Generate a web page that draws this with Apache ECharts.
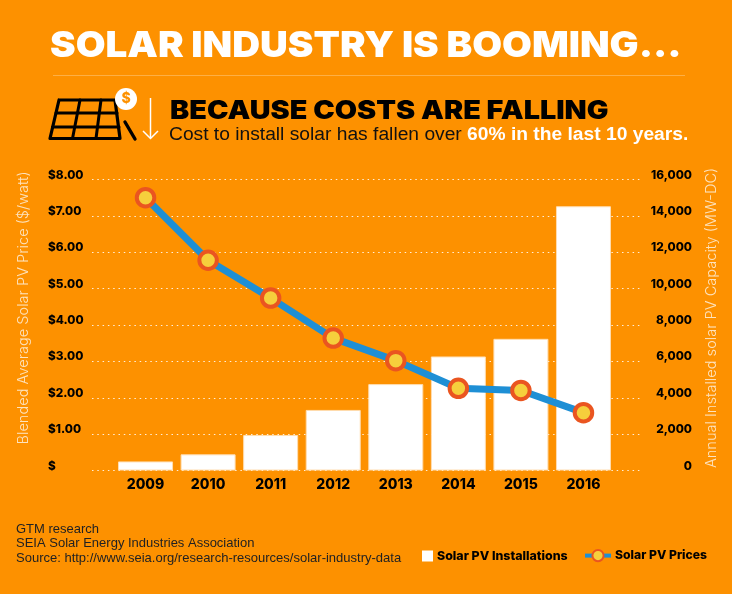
<!DOCTYPE html>
<html><head><meta charset="utf-8">
<style>html,body{margin:0;padding:0;background:#FD9100}#c{width:732px;height:594px}</style>
<script src="https://cdn.jsdelivr.net/npm/echarts@6/dist/echarts.min.js"></script>
</head><body><div id="c"></div>
<script>
const categories = ['2009','2010','2011','2012','2013','2014','2015','2016'];
const installations = [500,890,1950,3330,4750,6270,7240,14530];
const prices = [7.5,5.78,4.74,3.64,3.02,2.26,2.2,1.59];
const priceTicks = ['$','$1.00','$2.00','$3.00','$4.00','$5.00','$6.00','$7.00','$8.00'];
const capacityTicks = ['0','2,000','4,000','6,000','8,000','10,000','12,000','14,000','16,000'];
const footer = ['GTM research','SEIA Solar Energy Industries Association','Source: http://www.seia.org/research-resources/solar-industry-data'];

const BG='#FD9100', HEAVY='Inter, "Noto Sans", sans-serif', PLAIN='"Liberation Sans", Arial, sans-serif';
const gridTop=179.5, gridH=291;
const chart = echarts.init(document.getElementById('c'),null,{renderer:'canvas'});
const stroke=(pts,w=3)=>({type:'polyline',shape:{points:pts},style:{stroke:'#000',lineWidth:w,fill:null,lineCap:'round',lineJoin:'round'},silent:true});
chart.setOption({
  backgroundColor:BG, animation:false,
  grid:[
    {left:92,width:551,top:gridTop,height:gridH},
    {left:114.25,width:500.5,top:gridTop,height:gridH}
  ],
  xAxis:[
    {gridIndex:0,type:'value',min:0,max:1,show:false},
    {gridIndex:1,type:'category',data:categories,position:'bottom',
     axisLine:{show:false},axisTick:{show:false},
     axisLabel:{color:'#000',fontFamily:HEAVY,fontWeight:800,fontSize:14,margin:7}}
  ],
  yAxis:[
    {gridIndex:0,type:'value',min:0,max:8,interval:1,position:'left',
     axisLine:{show:false},axisTick:{show:false},
     splitLine:{show:true,lineStyle:{color:'#fff',width:1,type:[1.5,3.8],opacity:.85}},
     axisLabel:{color:'#000',fontFamily:HEAVY,fontWeight:800,fontSize:11.8,align:'left',margin:44,verticalAlign:'bottom',lineHeight:9,
       formatter:(v)=>priceTicks[Math.round(v)]}},
    {gridIndex:0,type:'value',min:0,max:16000,interval:2000,position:'right',
     axisLine:{show:false},axisTick:{show:false},splitLine:{show:false},
     axisLabel:{color:'#000',fontFamily:HEAVY,fontWeight:800,fontSize:11.8,align:'right',margin:49,verticalAlign:'bottom',lineHeight:9,
       formatter:(v)=>capacityTicks[Math.round(v/2000)]}},
    {gridIndex:1,type:'value',min:0,max:8,show:false},
    {gridIndex:1,type:'value',min:0,max:16000,show:false}
  ],
  legend:[
    {data:[{name:'Solar PV Installations',icon:'rect'}],left:422,top:550,itemWidth:11,itemHeight:11,padding:0,itemGap:0,
     itemStyle:{borderWidth:0},
     textStyle:{color:'#000',fontFamily:HEAVY,fontWeight:800,fontSize:12.4,padding:[1,0,0,-1]}},
    {data:['Solar PV Prices'],left:583,top:549,itemWidth:26,itemHeight:14,padding:0,
     lineStyle:{width:4},
     textStyle:{color:'#000',fontFamily:HEAVY,fontWeight:800,fontSize:12.2,padding:[1,0,0,-1]}}
  ],
  series:[
    {name:'Solar PV Installations',type:'bar',xAxisIndex:1,yAxisIndex:3,data:installations,barWidth:55,
     itemStyle:{color:'#fff',borderColor:'#FFDDB0',borderWidth:1}},
    {name:'Solar PV Prices',type:'line',xAxisIndex:1,yAxisIndex:2,data:prices,
     lineStyle:{color:'#1E8FD5',width:7},symbol:'circle',symbolSize:17.5,z:5,
     itemStyle:{color:'#F6CF3C',borderColor:'#EA5520',borderWidth:4}}
  ],
  graphic:[
    {type:'text',x:50,y:28,scaleX:1.07,style:{text:'SOLAR INDUSTRY IS BOOMING...',fill:'#fff',font:'900 36px '+HEAVY}},
    {type:'line',shape:{x1:53,y1:75.5,x2:685,y2:75.5},style:{stroke:'#FDAF45',lineWidth:1}},
    {type:'text',x:170,y:98,scaleX:1.13,style:{text:'BECAUSE COSTS ARE FALLING',fill:'#000',font:'900 25.5px '+HEAVY}},
    {type:'text',x:169,y:126,scaleX:1.068,style:{rich:{a:{fill:'#111',font:'18px '+PLAIN},b:{fill:'#fff',font:'bold 18px '+PLAIN}},text:'{a|Cost to install solar has fallen over }{b|60% in the last 10 years.}'}},
    {type:'text',x:23.5,y:308,rotation:Math.PI/2,style:{text:'Blended Average Solar PV Price ($/watt)',fill:'#FDE3BF',font:'300 14.6px '+HEAVY,align:'center',verticalAlign:'middle'}},
    {type:'text',x:712,y:318,rotation:Math.PI/2,style:{text:'Annual Installed solar PV Capacity (MW-DC)',fill:'#FDE3BF',font:'300 14.6px '+HEAVY,align:'center',verticalAlign:'middle'}},
    {type:'text',left:16,top:522,style:{text:footer.join('\n'),fill:'#222',font:'13px '+PLAIN,lineHeight:14.6}},
    stroke([[59,100],[115,100],[120,138.5],[50,138.5],[59,100]],3.2),
    stroke([[56,113],[117,113]],3), stroke([[52.5,127],[119,127]],3),
    stroke([[80,100],[72.5,138.5]],3), stroke([[101,100],[96,138.5]],3),
    stroke([[125,122],[135,139]],3.4),
    {type:'circle',shape:{cx:126,cy:99,r:11},style:{fill:'#fff'}},
    {type:'text',x:126,y:99,style:{text:'$',fill:BG,font:'800 14px '+HEAVY,align:'center',verticalAlign:'middle'}},
    {type:'polyline',shape:{points:[[150.5,98],[150.5,138]]},style:{stroke:'#fff',lineWidth:1.5,fill:null}},
    {type:'polyline',shape:{points:[[143,131],[150.5,138.5],[158,131]]},style:{stroke:'#fff',lineWidth:1.5,fill:null}}
  ]
});
</script></body></html>
